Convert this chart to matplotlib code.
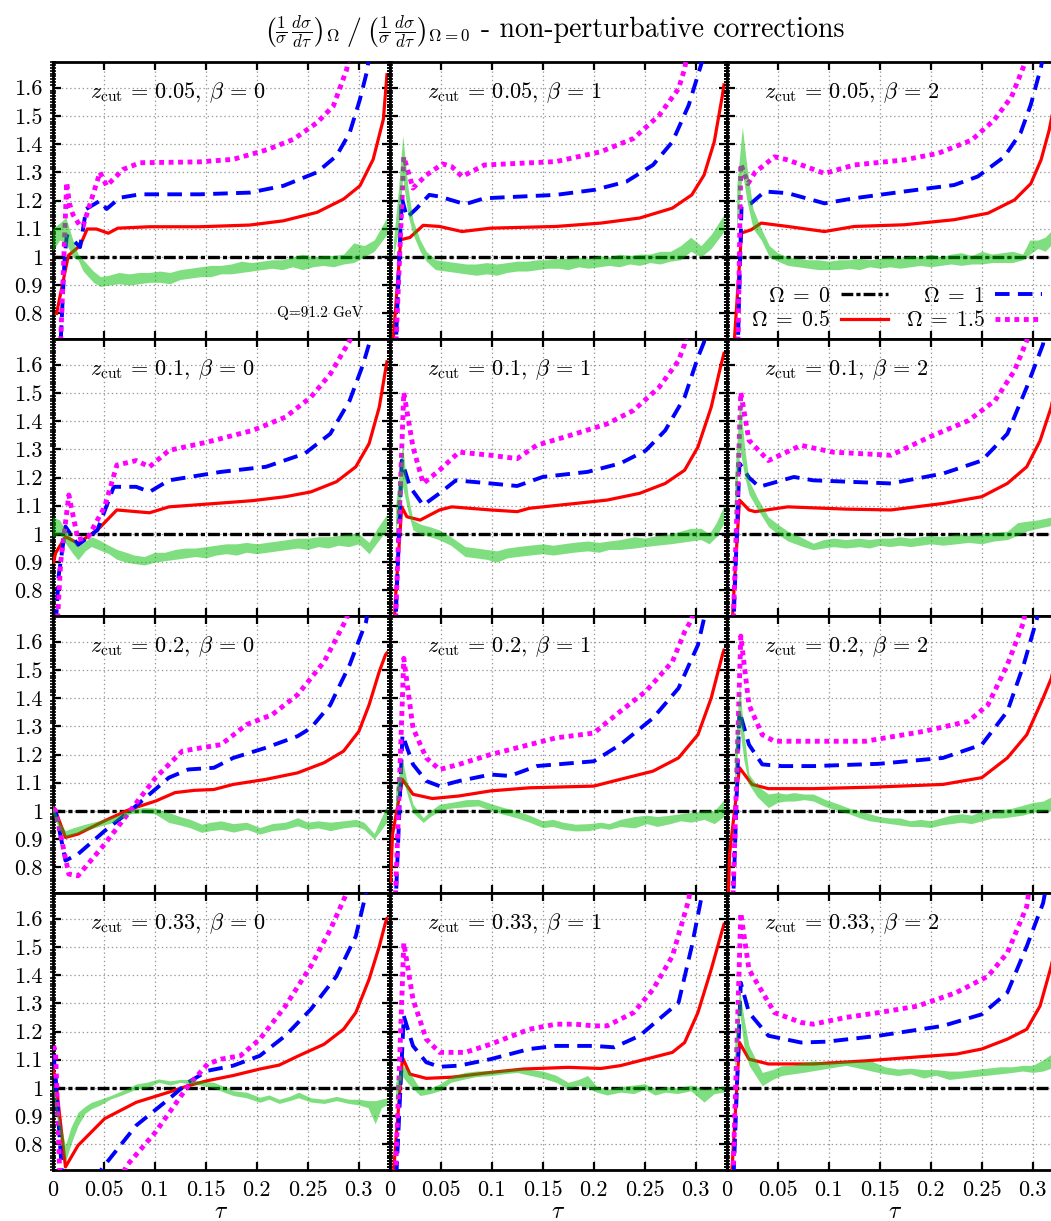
import numpy as np
import matplotlib
matplotlib.use("Agg")
import matplotlib.pyplot as plt
from matplotlib.ticker import MultipleLocator, FuncFormatter
from matplotlib.lines import Line2D

plt.rcParams['font.family'] = 'serif'
plt.rcParams['font.serif'] = ['cmr10']
plt.rcParams['mathtext.fontset'] = 'cm'
plt.rcParams['axes.formatter.use_mathtext'] = True
plt.rcParams['lines.scale_dashes'] = False

# ---- data: (tau, ratio) for lines, (tau, lo, hi) for the band ----
# z_cut = 0.05
red_z005_b0 = [(0.004, 0.80), (0.0155, 1.005), (0.027, 1.04), (0.034, 1.099), (0.043, 1.099), (0.0546, 1.084),
               (0.064, 1.102), (0.095, 1.107), (0.144, 1.107), (0.193, 1.113), (0.226, 1.128), (0.259, 1.158),
               (0.285, 1.205), (0.301, 1.252), (0.314, 1.346), (0.324, 1.488), (0.3275, 1.646)]
blue_z005_b0 = [(0.004, 0.3), (0.008, 0.7), (0.012, 1.005), (0.014, 1.075), (0.020, 1.06), (0.027, 1.035),
                (0.033, 1.17), (0.0465, 1.199), (0.053, 1.17), (0.066, 1.21), (0.0857, 1.222), (0.144, 1.222),
                (0.193, 1.228), (0.226, 1.252), (0.259, 1.30), (0.278, 1.358), (0.291, 1.44), (0.301, 1.558),
                (0.3076, 1.653), (0.312, 1.75)]
mag_z005_b0 = [(0.004, 0.3), (0.0085, 0.75), (0.0139, 1.264), (0.0165, 1.19), (0.020, 1.15), (0.027, 1.11),
               (0.030, 1.11), (0.0465, 1.30), (0.053, 1.252), (0.069, 1.31), (0.0857, 1.334), (0.144, 1.337),
               (0.177, 1.346), (0.21, 1.38), (0.236, 1.417), (0.259, 1.476), (0.275, 1.535), (0.288, 1.664),
               (0.292, 1.75)]
band_z005_b0 = [(0.000, 1.02, 1.10), (0.007, 1.06, 1.12), (0.013, 1.05, 1.14), (0.020, 1.00, 1.06),
                (0.025, 0.99, 1.01), (0.030, 0.95, 0.99), (0.040, 0.91, 0.95), (0.047, 0.895, 0.93),
                (0.055, 0.90, 0.935), (0.065, 0.905, 0.945), (0.075, 0.90, 0.94), (0.085, 0.905, 0.945),
                (0.095, 0.91, 0.945), (0.105, 0.91, 0.95), (0.115, 0.905, 0.945), (0.125, 0.92, 0.955),
                (0.135, 0.925, 0.96), (0.145, 0.93, 0.965), (0.155, 0.93, 0.97), (0.165, 0.94, 0.97),
                (0.175, 0.94, 0.975), (0.185, 0.945, 0.985), (0.195, 0.95, 0.98), (0.205, 0.955, 0.985),
                (0.215, 0.96, 0.99), (0.225, 0.955, 0.99), (0.235, 0.965, 1.0), (0.245, 0.955, 1.01),
                (0.255, 0.965, 1.0), (0.265, 0.97, 1.005), (0.275, 0.965, 1.005), (0.285, 0.975, 1.01),
                (0.295, 0.98, 1.05), (0.305, 1.0, 1.04), (0.315, 1.02, 1.06), (0.3275, 1.08, 1.14)]

red_z005_b1 = [(0.0025, 0.65), (0.011, 1.061), (0.020, 1.069), (0.033, 1.112), (0.049, 1.108), (0.071, 1.09),
               (0.099, 1.102), (0.163, 1.108), (0.207, 1.12), (0.245, 1.138), (0.277, 1.173), (0.296, 1.22),
               (0.308, 1.29), (0.318, 1.408), (0.326, 1.573), (0.3275, 1.61)]
blue_z005_b1 = [(0.003, 0.4), (0.012, 1.21), (0.017, 1.14), (0.026, 1.17), (0.039, 1.22), (0.049, 1.214),
                (0.074, 1.187), (0.093, 1.208), (0.163, 1.22), (0.201, 1.238), (0.232, 1.267), (0.258, 1.326),
                (0.277, 1.408), (0.293, 1.538), (0.305, 1.68), (0.31, 1.75)]
mag_z005_b1 = [(0.003, 0.4), (0.014, 1.355), (0.023, 1.244), (0.036, 1.29), (0.052, 1.33), (0.061, 1.32),
               (0.071, 1.285), (0.093, 1.326), (0.163, 1.338), (0.207, 1.373), (0.239, 1.42), (0.264, 1.502),
               (0.283, 1.596), (0.289, 1.667), (0.293, 1.75)]
band_z005_b1 = [(0.004, 1.00, 1.06), (0.009, 1.10, 1.25), (0.013, 1.28, 1.43), (0.018, 1.15, 1.25),
                (0.023, 1.08, 1.13), (0.030, 1.02, 1.06), (0.036, 0.985, 1.02), (0.045, 0.955, 0.99),
                (0.055, 0.95, 0.985), (0.065, 0.945, 0.98), (0.075, 0.94, 0.975), (0.085, 0.935, 0.975),
                (0.095, 0.94, 0.98), (0.105, 0.935, 0.975), (0.115, 0.945, 0.98), (0.125, 0.95, 0.985),
                (0.135, 0.95, 0.985), (0.145, 0.955, 0.99), (0.155, 0.96, 0.99), (0.165, 0.96, 0.995),
                (0.175, 0.955, 0.995), (0.185, 0.965, 1.0), (0.195, 0.96, 0.995), (0.205, 0.965, 1.005),
                (0.215, 0.97, 1.0), (0.225, 0.965, 1.01), (0.235, 0.975, 1.005), (0.245, 0.97, 1.01),
                (0.255, 0.98, 1.01), (0.265, 0.975, 1.02), (0.275, 0.985, 1.02), (0.285, 0.99, 1.04),
                (0.295, 1.02, 1.07), (0.305, 1.0, 1.04), (0.315, 1.03, 1.08), (0.3275, 1.09, 1.15)]

red_z005_b2 = [(0.003, 0.5), (0.008, 0.72), (0.0147, 1.085), (0.024, 1.096), (0.034, 1.12), (0.060, 1.108),
               (0.096, 1.09), (0.125, 1.108), (0.174, 1.114), (0.223, 1.132), (0.256, 1.155), (0.282, 1.202),
               (0.298, 1.26), (0.308, 1.344), (0.316, 1.45), (0.322, 1.56), (0.3275, 1.68)]
blue_z005_b2 = [(0.004, 0.4), (0.0114, 0.72), (0.0147, 1.179), (0.024, 1.19), (0.0375, 1.232), (0.060, 1.226),
                (0.096, 1.19), (0.125, 1.208), (0.174, 1.232), (0.223, 1.255), (0.246, 1.285), (0.272, 1.355),
                (0.288, 1.44), (0.298, 1.54), (0.308, 1.673), (0.312, 1.75)]
mag_z005_b2 = [(0.004, 0.4), (0.0114, 0.72), (0.014, 1.33), (0.021, 1.26), (0.028, 1.30), (0.047, 1.355),
               (0.060, 1.344), (0.096, 1.296), (0.125, 1.326), (0.174, 1.344), (0.207, 1.367), (0.24, 1.414),
               (0.262, 1.485), (0.279, 1.567), (0.292, 1.685), (0.295, 1.75)]
band_z005_b2 = [(0.010, 1.10, 1.25), (0.0155, 1.30, 1.46), (0.020, 1.20, 1.32), (0.026, 1.10, 1.17),
                (0.034, 1.06, 1.10), (0.042, 1.00, 1.04), (0.050, 0.985, 1.015), (0.060, 0.97, 1.0),
                (0.070, 0.965, 0.995), (0.080, 0.96, 0.99), (0.090, 0.955, 0.99), (0.100, 0.955, 0.985),
                (0.110, 0.955, 0.99), (0.120, 0.96, 0.99), (0.130, 0.955, 0.995), (0.140, 0.965, 0.99),
                (0.150, 0.96, 0.995), (0.160, 0.965, 1.0), (0.170, 0.96, 0.995), (0.180, 0.965, 1.005),
                (0.190, 0.97, 1.0), (0.200, 0.965, 1.01), (0.210, 0.97, 1.0), (0.220, 0.975, 1.01),
                (0.230, 0.97, 1.015), (0.240, 0.975, 1.005), (0.250, 0.975, 1.02), (0.260, 0.98, 1.01),
                (0.270, 0.98, 1.015), (0.280, 0.98, 1.02), (0.290, 0.99, 1.01), (0.297, 1.01, 1.06),
                (0.305, 1.03, 1.06), (0.312, 1.02, 1.07), (0.320, 1.05, 1.10)]

# z_cut = 0.1
red_z01_b0 = [(0.001, 0.90), (0.003, 0.932), (0.0127, 0.99), (0.025, 0.967), (0.044, 1.014), (0.063, 1.085),
              (0.082, 1.079), (0.095, 1.075), (0.114, 1.096), (0.152, 1.106), (0.196, 1.118), (0.228, 1.132),
              (0.253, 1.149), (0.278, 1.185), (0.297, 1.238), (0.31, 1.32), (0.32, 1.45), (0.326, 1.579),
              (0.3275, 1.61)]
blue_z01_b0 = [(0.002, 0.6), (0.006, 0.85), (0.0127, 1.026), (0.025, 0.961), (0.044, 1.014), (0.060, 1.167),
               (0.082, 1.167), (0.095, 1.149), (0.114, 1.19), (0.165, 1.22), (0.209, 1.238), (0.247, 1.285),
               (0.272, 1.355), (0.291, 1.473), (0.304, 1.60), (0.31, 1.673), (0.313, 1.75)]
mag_z01_b0 = [(0.002, 0.5), (0.008, 0.9), (0.016, 1.138), (0.025, 0.979), (0.035, 0.99), (0.051, 1.096),
              (0.063, 1.244), (0.082, 1.26), (0.095, 1.238), (0.114, 1.296), (0.152, 1.326), (0.196, 1.367),
              (0.228, 1.414), (0.253, 1.485), (0.272, 1.567), (0.291, 1.685), (0.294, 1.75)]
band_z01_b0 = [(0.000, 0.99, 1.06), (0.007, 1.0, 1.05), (0.0127, 0.967, 1.014), (0.020, 0.93, 0.98),
               (0.025, 0.908, 0.955), (0.032, 0.94, 0.975), (0.038, 0.955, 0.99), (0.045, 0.945, 0.98),
               (0.055, 0.93, 0.96), (0.063, 0.91, 0.945), (0.072, 0.90, 0.935), (0.080, 0.895, 0.925),
               (0.090, 0.89, 0.92), (0.100, 0.90, 0.935), (0.110, 0.905, 0.935), (0.120, 0.91, 0.945),
               (0.130, 0.915, 0.95), (0.140, 0.92, 0.95), (0.150, 0.915, 0.955), (0.160, 0.925, 0.96),
               (0.170, 0.93, 0.965), (0.180, 0.925, 0.965), (0.190, 0.935, 0.97), (0.200, 0.93, 0.965),
               (0.210, 0.935, 0.97), (0.220, 0.94, 0.975), (0.230, 0.945, 0.98), (0.240, 0.95, 0.985),
               (0.250, 0.945, 0.985), (0.260, 0.955, 0.99), (0.270, 0.95, 0.99), (0.280, 0.96, 0.995),
               (0.290, 0.955, 1.0), (0.300, 0.965, 1.0), (0.310, 0.93, 0.97), (0.318, 0.97, 1.02),
               (0.3275, 1.015, 1.07)]

red_z01_b1 = [(0.002, 0.5), (0.006, 0.78), (0.012, 1.096), (0.017, 1.061), (0.03, 1.049), (0.049, 1.085),
              (0.061, 1.096), (0.099, 1.085), (0.125, 1.079), (0.137, 1.091), (0.182, 1.108), (0.213, 1.12),
              (0.245, 1.144), (0.27, 1.179), (0.289, 1.226), (0.302, 1.308), (0.315, 1.449), (0.324, 1.59),
              (0.3275, 1.64)]
blue_z01_b1 = [(0.003, 0.4), (0.012, 1.26), (0.020, 1.167), (0.033, 1.102), (0.049, 1.144), (0.065, 1.19),
               (0.099, 1.179), (0.125, 1.17), (0.15, 1.202), (0.194, 1.22), (0.226, 1.25), (0.251, 1.296),
               (0.27, 1.367), (0.289, 1.485), (0.302, 1.626), (0.308, 1.68), (0.311, 1.75)]
mag_z01_b1 = [(0.003, 0.4), (0.014, 1.502), (0.023, 1.308), (0.033, 1.179), (0.049, 1.226), (0.068, 1.29),
              (0.099, 1.279), (0.125, 1.267), (0.144, 1.314), (0.182, 1.355), (0.213, 1.39), (0.239, 1.438),
              (0.264, 1.52), (0.283, 1.614), (0.289, 1.673), (0.292, 1.75)]
band_z01_b1 = [(0.006, 1.0, 1.10), (0.0127, 1.17, 1.32), (0.018, 1.08, 1.14), (0.023, 1.014, 1.049),
               (0.030, 1.0, 1.035), (0.040, 0.99, 1.025), (0.049, 0.979, 1.014), (0.060, 0.96, 0.99),
               (0.074, 0.92, 0.955), (0.085, 0.915, 0.95), (0.095, 0.91, 0.945), (0.105, 0.90, 0.94),
               (0.115, 0.915, 0.95), (0.125, 0.92, 0.955), (0.137, 0.925, 0.96), (0.150, 0.93, 0.965),
               (0.160, 0.925, 0.96), (0.170, 0.93, 0.965), (0.180, 0.935, 0.97), (0.194, 0.94, 0.975),
               (0.205, 0.935, 0.97), (0.215, 0.945, 0.975), (0.226, 0.945, 0.98), (0.240, 0.95, 0.99),
               (0.250, 0.955, 0.985), (0.262, 0.96, 0.995), (0.275, 0.965, 1.0), (0.285, 0.97, 1.01),
               (0.295, 0.975, 1.02), (0.305, 0.98, 1.02), (0.313, 0.965, 1.0), (0.320, 0.99, 1.04),
               (0.3275, 1.04, 1.10)]

red_z01_b2 = [(0.003, 0.5), (0.007, 0.78), (0.0127, 1.12), (0.022, 1.085), (0.028, 1.079), (0.06, 1.096),
              (0.117, 1.088), (0.161, 1.085), (0.212, 1.108), (0.25, 1.132), (0.275, 1.179), (0.294, 1.238),
              (0.307, 1.33), (0.318, 1.45), (0.325, 1.58)]
blue_z01_b2 = [(0.004, 0.4), (0.0127, 1.25), (0.022, 1.20), (0.032, 1.167), (0.066, 1.202), (0.085, 1.19),
               (0.161, 1.179), (0.212, 1.214), (0.25, 1.26), (0.275, 1.355), (0.294, 1.52), (0.31, 1.673),
               (0.313, 1.75)]
mag_z01_b2 = [(0.004, 0.4), (0.014, 1.502), (0.022, 1.332), (0.041, 1.26), (0.073, 1.314), (0.104, 1.29),
              (0.161, 1.279), (0.199, 1.344), (0.237, 1.402), (0.263, 1.473), (0.282, 1.579), (0.294, 1.685),
              (0.297, 1.75)]
band_z01_b2 = [(0.008, 1.05, 1.20), (0.013, 1.30, 1.48), (0.018, 1.20, 1.30), (0.022, 1.14, 1.19),
               (0.030, 1.09, 1.13), (0.041, 1.026, 1.06), (0.050, 1.0, 1.035), (0.060, 0.975, 1.01),
               (0.066, 0.967, 1.0), (0.075, 0.955, 0.985), (0.085, 0.944, 0.967), (0.095, 0.95, 0.98),
               (0.105, 0.955, 0.985), (0.117, 0.95, 0.98), (0.130, 0.955, 0.985), (0.140, 0.95, 0.98),
               (0.150, 0.96, 0.985), (0.160, 0.955, 0.985), (0.170, 0.96, 0.99), (0.180, 0.955, 0.985),
               (0.190, 0.96, 0.99), (0.200, 0.965, 0.995), (0.212, 0.96, 0.99), (0.225, 0.965, 1.0),
               (0.237, 0.97, 0.995), (0.250, 0.965, 1.0), (0.262, 0.975, 1.005), (0.275, 0.98, 1.01),
               (0.285, 0.995, 1.04), (0.294, 1.01, 1.045), (0.305, 1.02, 1.05), (0.318, 1.03, 1.06),
               (0.325, 1.05, 1.10)]

# z_cut = 0.2
red_z02_b0 = [(0.001, 1.01), (0.003, 1.0), (0.0127, 0.906), (0.025, 0.918), (0.051, 0.965), (0.076, 1.006),
              (0.101, 1.035), (0.12, 1.065), (0.139, 1.073), (0.158, 1.076), (0.177, 1.094), (0.209, 1.112),
              (0.24, 1.135), (0.266, 1.171), (0.285, 1.212), (0.3, 1.282), (0.31, 1.376), (0.32, 1.494),
              (0.326, 1.553), (0.3275, 1.56)]
blue_z02_b0 = [(0.001, 1.01), (0.003, 1.0), (0.0127, 0.824), (0.025, 0.847), (0.051, 0.929), (0.076, 1.0),
               (0.095, 1.059), (0.114, 1.118), (0.133, 1.147), (0.158, 1.153), (0.177, 1.188), (0.209, 1.224),
               (0.24, 1.265), (0.253, 1.294), (0.272, 1.376), (0.291, 1.518), (0.307, 1.67), (0.311, 1.75)]
mag_z02_b0 = [(0.001, 1.01), (0.003, 1.0), (0.016, 0.776), (0.025, 0.77), (0.051, 0.882), (0.076, 1.0),
              (0.101, 1.118), (0.127, 1.212), (0.146, 1.224), (0.165, 1.235), (0.19, 1.306), (0.215, 1.341),
              (0.24, 1.412), (0.266, 1.529), (0.288, 1.682), (0.292, 1.75)]
band_z02_b0 = [(0.000, 0.99, 1.02), (0.007, 0.93, 0.96), (0.0127, 0.906, 0.93), (0.020, 0.915, 0.94),
               (0.032, 0.93, 0.953), (0.045, 0.945, 0.965), (0.060, 0.96, 0.98), (0.076, 0.99, 1.005),
               (0.089, 0.994, 1.012), (0.100, 0.99, 1.01), (0.114, 0.959, 0.994), (0.125, 0.95, 0.98),
               (0.135, 0.94, 0.97), (0.146, 0.924, 0.953), (0.155, 0.93, 0.96), (0.165, 0.935, 0.965),
               (0.177, 0.925, 0.955), (0.190, 0.935, 0.96), (0.203, 0.918, 0.941), (0.215, 0.93, 0.955),
               (0.228, 0.935, 0.96), (0.240, 0.947, 0.976), (0.250, 0.935, 0.96), (0.260, 0.94, 0.965),
               (0.272, 0.93, 0.96), (0.285, 0.94, 0.965), (0.297, 0.945, 0.97), (0.305, 0.935, 0.96),
               (0.315, 0.90, 0.92), (0.3275, 0.96, 1.02)]

red_z02_b1 = [(0.001, 0.75), (0.003, 0.918), (0.0127, 1.112), (0.023, 1.059), (0.042, 1.044), (0.068, 1.053),
              (0.099, 1.071), (0.137, 1.082), (0.2, 1.088), (0.226, 1.112), (0.258, 1.141), (0.283, 1.188),
              (0.302, 1.27), (0.315, 1.4), (0.326, 1.553), (0.3275, 1.57)]
blue_z02_b1 = [(0.003, 0.4), (0.0127, 1.27), (0.023, 1.165), (0.036, 1.106), (0.049, 1.088), (0.068, 1.106),
               (0.099, 1.129), (0.118, 1.124), (0.144, 1.159), (0.2, 1.176), (0.226, 1.235), (0.258, 1.329),
               (0.283, 1.435), (0.302, 1.588), (0.308, 1.682), (0.311, 1.75)]
mag_z02_b1 = [(0.003, 0.4), (0.014, 1.541), (0.023, 1.294), (0.036, 1.188), (0.049, 1.147), (0.068, 1.165),
              (0.099, 1.2), (0.137, 1.235), (0.163, 1.259), (0.2, 1.276), (0.226, 1.353), (0.251, 1.424),
              (0.277, 1.529), (0.289, 1.635), (0.296, 1.68), (0.299, 1.75)]
band_z02_b1 = [(0.006, 1.0, 1.08), (0.0127, 1.12, 1.18), (0.018, 1.05, 1.09), (0.023, 0.994, 1.024),
               (0.033, 0.959, 0.976), (0.040, 0.98, 1.0), (0.049, 1.0, 1.024), (0.060, 1.01, 1.03),
               (0.075, 1.015, 1.04), (0.087, 1.018, 1.041), (0.100, 1.0, 1.025), (0.112, 0.988, 1.012),
               (0.125, 0.975, 1.0), (0.137, 0.96, 0.985), (0.150, 0.941, 0.965), (0.160, 0.945, 0.97),
               (0.170, 0.935, 0.96), (0.182, 0.929, 0.953), (0.195, 0.93, 0.955), (0.207, 0.94, 0.96),
               (0.215, 0.935, 0.955), (0.226, 0.945, 0.97), (0.240, 0.94, 0.98), (0.252, 0.955, 0.985),
               (0.262, 0.945, 0.98), (0.275, 0.955, 0.985), (0.285, 0.965, 0.99), (0.295, 0.96, 0.995),
               (0.308, 0.97, 1.0), (0.318, 0.955, 1.0), (0.3275, 0.98, 1.04)]

red_z02_b2 = [(0.001, 0.6), (0.003, 0.847), (0.0127, 1.153), (0.025, 1.094), (0.041, 1.079), (0.085, 1.079),
              (0.149, 1.085), (0.212, 1.094), (0.25, 1.118), (0.275, 1.188), (0.294, 1.27), (0.31, 1.4),
              (0.318, 1.47), (0.325, 1.58)]
blue_z02_b2 = [(0.004, 0.4), (0.0127, 1.353), (0.022, 1.235), (0.035, 1.165), (0.054, 1.159), (0.085, 1.159),
               (0.149, 1.167), (0.212, 1.188), (0.25, 1.235), (0.275, 1.353), (0.291, 1.518), (0.304, 1.682),
               (0.307, 1.75)]
mag_z02_b2 = [(0.004, 0.4), (0.014, 1.62), (0.022, 1.376), (0.035, 1.27), (0.047, 1.247), (0.085, 1.247),
              (0.136, 1.247), (0.193, 1.282), (0.237, 1.318), (0.256, 1.376), (0.275, 1.518), (0.291, 1.67),
              (0.294, 1.75)]
band_z02_b2 = [(0.008, 1.05, 1.20), (0.0127, 1.30, 1.45), (0.017, 1.18, 1.28), (0.022, 1.094, 1.13),
               (0.030, 1.05, 1.09), (0.041, 1.012, 1.06), (0.050, 1.03, 1.065), (0.058, 1.035, 1.06),
               (0.066, 1.035, 1.065), (0.076, 1.04, 1.06), (0.085, 1.035, 1.06), (0.097, 1.015, 1.04),
               (0.110, 1.0, 1.024), (0.120, 0.99, 1.01), (0.130, 0.976, 1.0), (0.140, 0.965, 0.99),
               (0.150, 0.96, 0.98), (0.160, 0.955, 0.975), (0.170, 0.95, 0.975), (0.180, 0.945, 0.965),
               (0.190, 0.945, 0.97), (0.200, 0.941, 0.965), (0.210, 0.95, 0.975), (0.220, 0.955, 0.985),
               (0.230, 0.96, 0.99), (0.240, 0.955, 0.985), (0.250, 0.965, 1.0), (0.260, 0.975, 0.995),
               (0.270, 0.975, 1.005), (0.280, 0.98, 1.01), (0.290, 0.985, 1.02), (0.300, 0.995, 1.03),
               (0.310, 1.0, 1.035), (0.318, 1.0, 1.05)]

# z_cut = 0.33
red_z033_b0 = [(0.001, 1.06), (0.003, 1.032), (0.0127, 0.72), (0.025, 0.796), (0.051, 0.891), (0.082, 0.949),
               (0.114, 0.985), (0.133, 1.008), (0.152, 1.026), (0.177, 1.044), (0.203, 1.067), (0.222, 1.081),
               (0.241, 1.114), (0.266, 1.155), (0.285, 1.208), (0.297, 1.267), (0.31, 1.385), (0.32, 1.502),
               (0.326, 1.585), (0.3275, 1.6)]
blue_z033_b0 = [(0.001, 1.12), (0.003, 1.04), (0.012, 0.55), (0.030, 0.62), (0.051, 0.726), (0.082, 0.867),
                (0.114, 0.961), (0.133, 1.02), (0.152, 1.061), (0.177, 1.079), (0.203, 1.114), (0.228, 1.185),
                (0.253, 1.279), (0.278, 1.396), (0.297, 1.538), (0.307, 1.69), (0.31, 1.75)]
mag_z033_b0 = [(0.001, 1.15), (0.003, 1.126), (0.009, 0.5), (0.04, 0.5), (0.073, 0.726), (0.101, 0.844),
               (0.133, 1.008), (0.152, 1.085), (0.165, 1.102), (0.184, 1.114), (0.203, 1.173), (0.228, 1.29),
               (0.253, 1.432), (0.272, 1.561), (0.288, 1.69), (0.29, 1.75)]
band_z033_b0 = [(0.000, 1.0, 1.02), (0.006, 0.85, 0.9), (0.0127, 0.738, 0.796), (0.018, 0.80, 0.86),
                (0.025, 0.867, 0.914), (0.032, 0.91, 0.935), (0.038, 0.926, 0.949), (0.047, 0.94, 0.96),
                (0.057, 0.961, 0.973), (0.068, 0.975, 0.99), (0.082, 0.996, 1.014), (0.092, 1.0, 1.02),
                (0.104, 1.02, 1.032), (0.115, 1.01, 1.025), (0.125, 1.02, 1.03), (0.133, 1.015, 1.03),
                (0.145, 1.01, 1.025), (0.158, 1.0, 1.02), (0.168, 0.985, 1.005), (0.177, 0.973, 0.99),
                (0.190, 0.965, 0.985), (0.203, 0.949, 0.967), (0.212, 0.96, 0.975), (0.222, 0.945, 0.96),
                (0.232, 0.955, 0.97), (0.241, 0.965, 0.985), (0.253, 0.95, 0.965), (0.266, 0.945, 0.96),
                (0.278, 0.955, 0.97), (0.290, 0.945, 0.96), (0.300, 0.94, 0.96), (0.309, 0.93, 0.955),
                (0.316, 0.873, 0.955), (0.322, 0.93, 0.96), (0.3275, 0.94, 0.965)]

red_z033_b1 = [(0.002, 0.6), (0.006, 0.8), (0.0127, 1.108), (0.02, 1.049), (0.036, 1.034), (0.061, 1.038),
               (0.099, 1.055), (0.131, 1.067), (0.175, 1.073), (0.207, 1.069), (0.226, 1.079), (0.251, 1.102),
               (0.277, 1.126), (0.289, 1.161), (0.302, 1.267), (0.315, 1.42), (0.326, 1.561), (0.3275, 1.58)]
blue_z033_b1 = [(0.003, 0.4), (0.014, 1.255), (0.023, 1.149), (0.036, 1.091), (0.049, 1.075), (0.068, 1.079),
                (0.099, 1.102), (0.137, 1.138), (0.163, 1.149), (0.2, 1.149), (0.22, 1.144), (0.245, 1.185),
                (0.264, 1.244), (0.283, 1.302), (0.296, 1.502), (0.305, 1.667), (0.308, 1.75)]
mag_z033_b1 = [(0.003, 0.4), (0.014, 1.514), (0.023, 1.314), (0.036, 1.173), (0.049, 1.126), (0.074, 1.126),
               (0.099, 1.155), (0.137, 1.208), (0.163, 1.226), (0.182, 1.226), (0.2, 1.22), (0.213, 1.22),
               (0.239, 1.267), (0.258, 1.349), (0.277, 1.467), (0.293, 1.667), (0.296, 1.75)]
band_z033_b1 = [(0.006, 0.95, 1.02), (0.0127, 1.04, 1.08), (0.020, 1.008, 1.055), (0.030, 0.973, 0.996),
                (0.040, 0.98, 1.0), (0.049, 0.99, 1.014), (0.060, 1.02, 1.04), (0.074, 1.032, 1.055),
                (0.085, 1.04, 1.06), (0.099, 1.044, 1.061), (0.112, 1.05, 1.065), (0.125, 1.055, 1.07),
                (0.137, 1.045, 1.065), (0.150, 1.035, 1.06), (0.163, 1.02, 1.045), (0.175, 0.996, 1.02),
                (0.185, 1.01, 1.03), (0.194, 1.0, 1.044), (0.203, 0.985, 1.005), (0.213, 0.975, 0.995),
                (0.226, 0.985, 1.005), (0.239, 0.98, 1.01), (0.250, 0.995, 1.015), (0.260, 0.975, 0.995),
                (0.270, 0.985, 1.005), (0.282, 0.98, 1.0), (0.295, 0.99, 1.01), (0.308, 0.95, 0.996),
                (0.318, 0.98, 1.0), (0.3275, 0.985, 1.005)]

red_z033_b2 = [(0.002, 0.5), (0.006, 0.75), (0.0127, 1.161), (0.022, 1.102), (0.041, 1.085), (0.085, 1.085),
               (0.136, 1.096), (0.18, 1.108), (0.225, 1.12), (0.25, 1.138), (0.275, 1.173), (0.294, 1.208),
               (0.307, 1.29), (0.318, 1.432), (0.325, 1.55)]
blue_z033_b2 = [(0.004, 0.4), (0.014, 1.373), (0.022, 1.267), (0.041, 1.185), (0.073, 1.161), (0.098, 1.164),
                (0.149, 1.185), (0.212, 1.22), (0.25, 1.261), (0.275, 1.338), (0.294, 1.502), (0.31, 1.655),
                (0.315, 1.75)]
mag_z033_b2 = [(0.004, 0.4), (0.014, 1.62), (0.022, 1.42), (0.047, 1.267), (0.073, 1.232), (0.085, 1.226),
               (0.117, 1.25), (0.149, 1.267), (0.187, 1.29), (0.225, 1.338), (0.256, 1.396), (0.275, 1.479),
               (0.294, 1.643), (0.298, 1.75)]
band_z033_b2 = [(0.008, 1.05, 1.15), (0.0127, 1.27, 1.35), (0.017, 1.15, 1.25), (0.022, 1.08, 1.15),
                (0.035, 1.008, 1.055), (0.045, 1.03, 1.065), (0.054, 1.044, 1.079), (0.065, 1.05, 1.08),
                (0.075, 1.055, 1.09), (0.085, 1.061, 1.096), (0.100, 1.07, 1.09), (0.117, 1.08, 1.096),
                (0.130, 1.07, 1.095), (0.142, 1.06, 1.095), (0.155, 1.05, 1.075), (0.168, 1.044, 1.067),
                (0.180, 1.05, 1.07), (0.193, 1.035, 1.065), (0.205, 1.045, 1.065), (0.218, 1.03, 1.06),
                (0.230, 1.035, 1.06), (0.242, 1.04, 1.065), (0.255, 1.045, 1.07), (0.268, 1.05, 1.075),
                (0.280, 1.055, 1.075), (0.290, 1.06, 1.08), (0.300, 1.055, 1.08), (0.310, 1.06, 1.10),
                (0.318, 1.07, 1.12)]

zcuts = ["0.05", "0.1", "0.2", "0.33"]
betas = ["0", "1", "2"]
reds = [[red_z005_b0, red_z005_b1, red_z005_b2], [red_z01_b0, red_z01_b1, red_z01_b2],
        [red_z02_b0, red_z02_b1, red_z02_b2], [red_z033_b0, red_z033_b1, red_z033_b2]]
blues = [[blue_z005_b0, blue_z005_b1, blue_z005_b2], [blue_z01_b0, blue_z01_b1, blue_z01_b2],
         [blue_z02_b0, blue_z02_b1, blue_z02_b2], [blue_z033_b0, blue_z033_b1, blue_z033_b2]]
mags = [[mag_z005_b0, mag_z005_b1, mag_z005_b2], [mag_z01_b0, mag_z01_b1, mag_z01_b2],
        [mag_z02_b0, mag_z02_b1, mag_z02_b2], [mag_z033_b0, mag_z033_b1, mag_z033_b2]]
bands = [[band_z005_b0, band_z005_b1, band_z005_b2], [band_z01_b0, band_z01_b1, band_z01_b2],
         [band_z02_b0, band_z02_b1, band_z02_b2], [band_z033_b0, band_z033_b1, band_z033_b2]]

# ---- styles ----
sty_ref = dict(color='k', lw=2.4, dashes=(8.5, 2.2, 3.0, 2.2))
sty_red = dict(color='red', lw=2.3)
sty_blue = dict(color='blue', lw=2.8, dashes=(10.5, 6.0))
sty_mag = dict(color='magenta', lw=3.5, dashes=(3.5, 3.3))
band_col = (0.0, 0.75, 0.0)

W, H = 1051, 1221
fig = plt.figure(figsize=(W / 100, H / 100), dpi=100)

x0, pw = 52.5, 337.0
y0, ph = 62.3, 277.0
fmt = FuncFormatter(lambda v, p: '%g' % round(v, 3))

for r in range(4):
    for c in range(3):
        ax = fig.add_axes([(x0 + pw * c) / W, 1 - (y0 + ph * (r + 1)) / H, pw / W, ph / H])
        ax.set_xlim(0, 0.33)
        ax.set_ylim(0.708, 1.69)
        ax.xaxis.set_major_locator(MultipleLocator(0.05))
        ax.yaxis.set_major_locator(MultipleLocator(0.1))
        ax.yaxis.set_minor_locator(MultipleLocator(0.01))
        ax.xaxis.set_major_formatter(fmt)
        ax.yaxis.set_major_formatter(fmt)
        ax.tick_params(which='major', direction='in', top=True, right=True, length=6, width=1.6,
                       labelsize=16, pad=7)
        ax.tick_params(which='minor', direction='inout', left=True, right=True, length=4, width=1.2)
        ax.tick_params(labelleft=(c == 0), labelbottom=(r == 3))
        for s in ax.spines.values():
            s.set_linewidth(2.0)
        ax.grid(True, which='major', color='#999999', linestyle=(0, (1, 2)), lw=0.9)
        ax.set_axisbelow(True)

        ax.axhline(1.0, zorder=3, **sty_ref)
        for data, sty in ((reds[r][c], sty_red), (blues[r][c], sty_blue), (mags[r][c], sty_mag)):
            t = [p[0] for p in data]
            v = [p[1] for p in data]
            ax.plot(t, v, zorder=4, **sty)
        bt = [p[0] for p in bands[r][c]]
        blo = [p[1] for p in bands[r][c]]
        bhi = [p[2] for p in bands[r][c]]
        ax.fill_between(bt, blo, bhi, color=band_col, alpha=0.5, lw=0, zorder=5)

        ax.text(0.112, 0.889, r'$z_{\rm cut}\,=\,%s,\;\beta\,=\,%s$' % (zcuts[r], betas[c]),
                transform=ax.transAxes, fontsize=16, va='center', ha='left', zorder=6)
        if r == 3:
            ax.set_xlabel(r'$\tau$', fontsize=17, labelpad=1)
        if r == 0 and c == 0:
            ax.text(0.921, 0.095, 'Q=91.2 GeV', transform=ax.transAxes, fontsize=11,
                    ha='right', va='center')
        if r == 0 and c == 2:
            hs = [Line2D([], [], **sty_ref), Line2D([], [], **sty_red),
                  Line2D([], [], **sty_blue), Line2D([], [], **sty_mag)]
            ls = [r'$\Omega\;=\;0$', r'$\Omega\;=\;0.5$', r'$\Omega\;=\;1$', r'$\Omega\;=\;1.5$']
            ax.legend(hs, ls, ncol=2, markerfirst=False, frameon=False, fontsize=15.5,
                      loc='lower right', bbox_to_anchor=(0.995, -0.037), handlelength=2.2,
                      columnspacing=0.8, labelspacing=0.2, handletextpad=0.5)

title_math = (r'$\left(\frac{1}{\sigma}\,\frac{d\sigma}{d\tau}\right)_{\Omega}\;'
              r'\left/\;\left(\frac{1}{\sigma}\,\frac{d\sigma}{d\tau}\right)_{\Omega=0}\right.$')
fig.text(470 / W, 1 - 37 / H, title_math, ha='right', va='baseline', fontsize=17.5)
fig.text(481 / W, 1 - 37 / H, '- non-perturbative corrections', ha='left', va='baseline', fontsize=20)

fig.savefig('out.png', dpi=100)
